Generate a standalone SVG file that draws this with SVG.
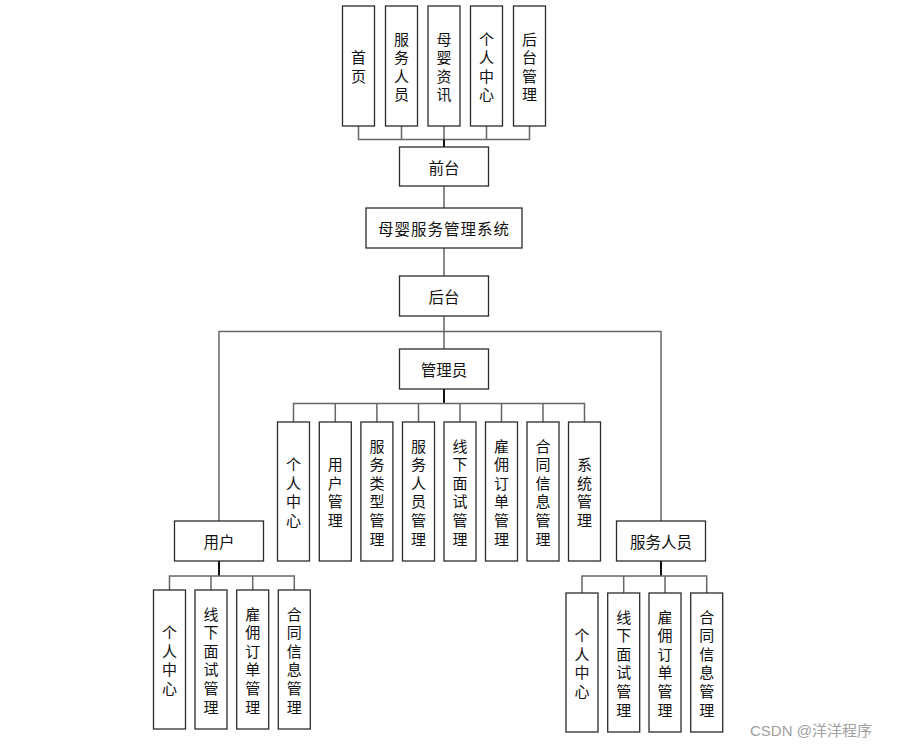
<svg xmlns="http://www.w3.org/2000/svg" width="901" height="747" viewBox="0 0 901 747">
<style>
.b{fill:#fff;stroke:#2b2b2b;stroke-width:1.3}
.t{font-family:"Noto Sans CJK SC","Microsoft YaHei",sans-serif;font-size:15.5px;fill:#111;text-anchor:middle;dominant-baseline:central}
.u{font-family:"Noto Sans CJK SC","Microsoft YaHei",sans-serif;font-size:15px;fill:#111;text-anchor:middle;dominant-baseline:central}
.c{fill:none;stroke:#666;stroke-width:1.5}
.k{fill:none;stroke:#111;stroke-width:2}
.w{font-family:"Liberation Sans","Noto Sans CJK SC",sans-serif;font-size:15px;fill:#a0a0a0}
</style>
<rect width="901" height="747" fill="#fff"/>
<g id="connectors">
<path class="c" d="M358.5 126V139.5H529.5V126M401.5 126V139.5M444 126V139.5M486.5 126V139.5"/>
<path class="k" d="M444 139.5V147"/>
<path class="c" d="M444 186V208M444 248V276M444 316V349"/>
<path class="c" d="M219 521V331.5H661V521"/>
<path class="k" d="M444 389V403.5"/>
<path class="c" d="M293.5 422V403.5H584.5V422M335.3 403.5V422M376.9 403.5V422M418.5 403.5V422M460 403.5V422M501.5 403.5V422M543 403.5V422"/>
<path class="k" d="M219 561V576"/>
<path class="c" d="M169.5 590V576H294.3V590M211 576V590M252.7 576V590"/>
<path class="k" d="M661 561V576"/>
<path class="c" d="M582 593V576H706.7V593M623.7 576V593M665 576V593"/>
</g>
<g id="n_shouye"><rect class="b" x="342.5" y="6" width="32" height="120"/><text class="u" x="358.5" y="56.7">首</text><text class="u" x="358.5" y="75.3">页</text></g>
<g id="n_fuwurenyuan_top"><rect class="b" x="385.5" y="6" width="32" height="120"/><text class="u" x="401.5" y="38.1">服</text><text class="u" x="401.5" y="56.7">务</text><text class="u" x="401.5" y="75.3">人</text><text class="u" x="401.5" y="93.9">员</text></g>
<g id="n_muyingzixun"><rect class="b" x="428" y="6" width="32" height="120"/><text class="u" x="444" y="38.1">母</text><text class="u" x="444" y="56.7">婴</text><text class="u" x="444" y="75.3">资</text><text class="u" x="444" y="93.9">讯</text></g>
<g id="n_gerenzhongxin_top"><rect class="b" x="470.5" y="6" width="32" height="120"/><text class="u" x="486.5" y="38.1">个</text><text class="u" x="486.5" y="56.7">人</text><text class="u" x="486.5" y="75.3">中</text><text class="u" x="486.5" y="93.9">心</text></g>
<g id="n_houtaiguanli"><rect class="b" x="513.5" y="6" width="32" height="120"/><text class="u" x="529.5" y="38.1">后</text><text class="u" x="529.5" y="56.7">台</text><text class="u" x="529.5" y="75.3">管</text><text class="u" x="529.5" y="93.9">理</text></g>
<g id="n_qiantai"><rect class="b" x="399.5" y="147" width="89" height="39"/><text class="t" x="444" y="166.5">前台</text></g>
<g id="n_system"><rect class="b" x="366" y="208" width="156" height="40"/><text class="t" x="444" y="228" letter-spacing="1">母婴服务管理系统</text></g>
<g id="n_houtai"><rect class="b" x="399.5" y="276" width="89" height="40"/><text class="t" x="444" y="296">后台</text></g>
<g id="n_admin"><rect class="b" x="399.5" y="349" width="89" height="40"/><text class="t" x="444" y="369">管理员</text></g>
<g id="n_a1"><rect class="b" x="277.5" y="422" width="32" height="139"/><text class="u" x="293.5" y="463.6">个</text><text class="u" x="293.5" y="482.2">人</text><text class="u" x="293.5" y="500.8">中</text><text class="u" x="293.5" y="519.4">心</text></g>
<g id="n_a2"><rect class="b" x="319.3" y="422" width="32" height="139"/><text class="u" x="335.3" y="463.6">用</text><text class="u" x="335.3" y="482.2">户</text><text class="u" x="335.3" y="500.8">管</text><text class="u" x="335.3" y="519.4">理</text></g>
<g id="n_a3"><rect class="b" x="360.9" y="422" width="32" height="139"/><text class="u" x="376.9" y="445">服</text><text class="u" x="376.9" y="463.6">务</text><text class="u" x="376.9" y="482.2">类</text><text class="u" x="376.9" y="500.8">型</text><text class="u" x="376.9" y="519.4">管</text><text class="u" x="376.9" y="538">理</text></g>
<g id="n_a4"><rect class="b" x="402.5" y="422" width="32" height="139"/><text class="u" x="418.5" y="445">服</text><text class="u" x="418.5" y="463.6">务</text><text class="u" x="418.5" y="482.2">人</text><text class="u" x="418.5" y="500.8">员</text><text class="u" x="418.5" y="519.4">管</text><text class="u" x="418.5" y="538">理</text></g>
<g id="n_a5"><rect class="b" x="444" y="422" width="32" height="139"/><text class="u" x="460" y="445">线</text><text class="u" x="460" y="463.6">下</text><text class="u" x="460" y="482.2">面</text><text class="u" x="460" y="500.8">试</text><text class="u" x="460" y="519.4">管</text><text class="u" x="460" y="538">理</text></g>
<g id="n_a6"><rect class="b" x="485.5" y="422" width="32" height="139"/><text class="u" x="501.5" y="445">雇</text><text class="u" x="501.5" y="463.6">佣</text><text class="u" x="501.5" y="482.2">订</text><text class="u" x="501.5" y="500.8">单</text><text class="u" x="501.5" y="519.4">管</text><text class="u" x="501.5" y="538">理</text></g>
<g id="n_a7"><rect class="b" x="527" y="422" width="32" height="139"/><text class="u" x="543" y="445">合</text><text class="u" x="543" y="463.6">同</text><text class="u" x="543" y="482.2">信</text><text class="u" x="543" y="500.8">息</text><text class="u" x="543" y="519.4">管</text><text class="u" x="543" y="538">理</text></g>
<g id="n_a8"><rect class="b" x="568.5" y="422" width="32" height="139"/><text class="u" x="584.5" y="463.6">系</text><text class="u" x="584.5" y="482.2">统</text><text class="u" x="584.5" y="500.8">管</text><text class="u" x="584.5" y="519.4">理</text></g>
<g id="n_user"><rect class="b" x="174.5" y="521" width="89" height="40"/><text class="t" x="219" y="541">用户</text></g>
<g id="n_u1"><rect class="b" x="153.5" y="590" width="32" height="139"/><text class="u" x="169.5" y="631.6">个</text><text class="u" x="169.5" y="650.2">人</text><text class="u" x="169.5" y="668.8">中</text><text class="u" x="169.5" y="687.4">心</text></g>
<g id="n_u2"><rect class="b" x="195" y="590" width="32" height="139"/><text class="u" x="211" y="613">线</text><text class="u" x="211" y="631.6">下</text><text class="u" x="211" y="650.2">面</text><text class="u" x="211" y="668.8">试</text><text class="u" x="211" y="687.4">管</text><text class="u" x="211" y="706">理</text></g>
<g id="n_u3"><rect class="b" x="236.7" y="590" width="32" height="139"/><text class="u" x="252.7" y="613">雇</text><text class="u" x="252.7" y="631.6">佣</text><text class="u" x="252.7" y="650.2">订</text><text class="u" x="252.7" y="668.8">单</text><text class="u" x="252.7" y="687.4">管</text><text class="u" x="252.7" y="706">理</text></g>
<g id="n_u4"><rect class="b" x="278.3" y="590" width="32" height="139"/><text class="u" x="294.3" y="613">合</text><text class="u" x="294.3" y="631.6">同</text><text class="u" x="294.3" y="650.2">信</text><text class="u" x="294.3" y="668.8">息</text><text class="u" x="294.3" y="687.4">管</text><text class="u" x="294.3" y="706">理</text></g>
<g id="n_staff"><rect class="b" x="616.5" y="521" width="89" height="40"/><text class="t" x="661" y="541">服务人员</text></g>
<g id="n_s1"><rect class="b" x="566" y="593" width="32" height="139"/><text class="u" x="582" y="634.6">个</text><text class="u" x="582" y="653.2">人</text><text class="u" x="582" y="671.8">中</text><text class="u" x="582" y="690.4">心</text></g>
<g id="n_s2"><rect class="b" x="607.7" y="593" width="32" height="139"/><text class="u" x="623.7" y="616">线</text><text class="u" x="623.7" y="634.6">下</text><text class="u" x="623.7" y="653.2">面</text><text class="u" x="623.7" y="671.8">试</text><text class="u" x="623.7" y="690.4">管</text><text class="u" x="623.7" y="709">理</text></g>
<g id="n_s3"><rect class="b" x="649" y="593" width="32" height="139"/><text class="u" x="665" y="616">雇</text><text class="u" x="665" y="634.6">佣</text><text class="u" x="665" y="653.2">订</text><text class="u" x="665" y="671.8">单</text><text class="u" x="665" y="690.4">管</text><text class="u" x="665" y="709">理</text></g>
<g id="n_s4"><rect class="b" x="690.7" y="593" width="32" height="139"/><text class="u" x="706.7" y="616">合</text><text class="u" x="706.7" y="634.6">同</text><text class="u" x="706.7" y="653.2">信</text><text class="u" x="706.7" y="671.8">息</text><text class="u" x="706.7" y="690.4">管</text><text class="u" x="706.7" y="709">理</text></g>
<text class="w" x="750" y="736">CSDN @洋洋程序</text>
</svg>
